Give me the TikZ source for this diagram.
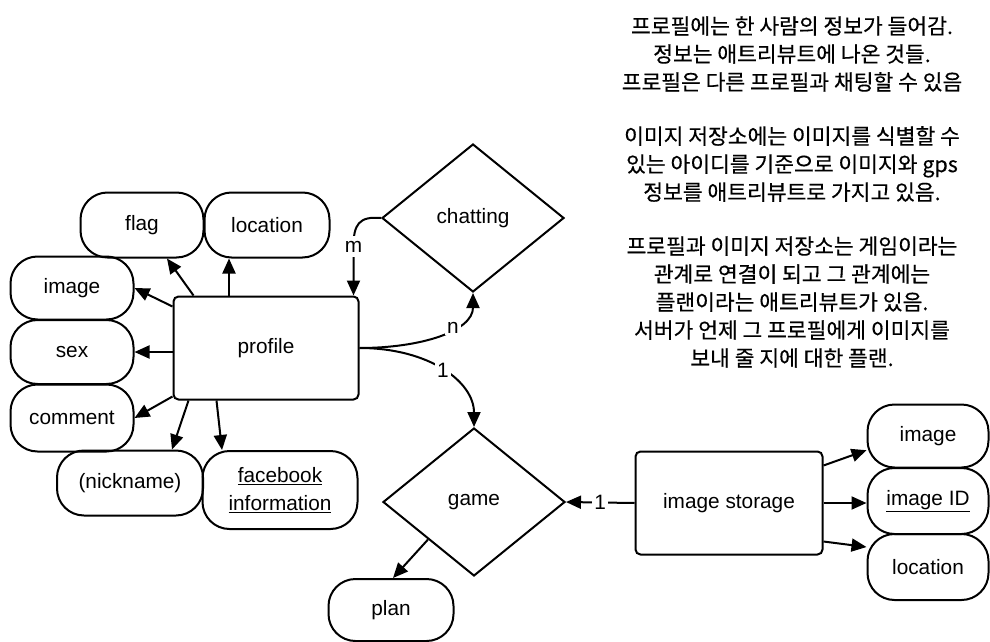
\documentclass[tikz,border=0pt]{standalone}
\usepackage{fontspec}
\setmainfont{Liberation Sans}
\newfontfamily\kofont[FakeBold=0.4]{Noto Sans CJK KR}
\usetikzlibrary{shapes.geometric,arrows.meta,calc}
\begin{document}
\begin{tikzpicture}[x=1pt,y=-1pt,line width=2pt,
  lbl/.style={font=\fontsize{20.8}{28}\selectfont},
  attr/.style={draw,lbl,rounded corners=27pt,minimum width=123pt,minimum height=65pt,inner sep=0pt,align=center},
  ent/.style={draw,lbl,rounded corners=5pt,minimum width=185pt,minimum height=103pt,inner sep=0pt},
  rel/.style={draw,lbl,diamond,minimum width=182pt,minimum height=148pt,inner sep=0pt},
  arr/.style={-{Triangle[length=15pt,width=13pt]}},
  card/.style={lbl,fill=white,inner sep=2pt},
  ko/.style={font=\kofont\fontsize{21.5}{28}\selectfont,align=center}]
\useasboundingbox (0,0) rectangle (990,642);
\fill[white] (0,0) rectangle (990,642);

% entities
\node[ent] (profile) at (266,348) {profile};
\node[ent,minimum width=187pt] (store) at (729,503) {image storage};

% relationships
\node[rel] (chat) at (473,218) {chatting};
\node[rel] (game) at (474,502) {game};

% profile attributes
\node[attr] (flag) at (142,225) {flag};
\node[attr,minimum width=125pt] (loc1) at (267,225) {location};
\node[attr,minimum height=63pt] (img1) at (72,288) {image};
\node[attr,minimum height=64pt] (sex) at (72,352) {sex};
\node[attr,minimum height=67pt] (comment) at (72,418) {comment};
\node[attr,minimum width=146pt] (nick) at (130,483) {(nickname)};
\node[attr,minimum width=155pt,minimum height=78pt] (fb) at (280,490) {\underline{facebook}\\\underline{information}};

% game attribute
\node[attr,minimum width=125pt,minimum height=62pt] (plan) at (391,610) {plan};

% image storage attributes
\node[attr,minimum width=121pt,minimum height=63pt] (img2) at (928,436) {image};
\node[attr,minimum width=121pt,minimum height=66pt] (imgid) at (928,501) {\underline{image ID}};
\node[attr,minimum width=121pt,minimum height=66pt] (loc2) at (928,567) {location};

% profile -> attributes
\draw[arr] ([xshift=21]profile.north west) -- ([xshift=25]flag.south);
\draw[arr] ([xshift=-38]loc1.south |- profile.north) -- ([xshift=-38]loc1.south);
\draw[arr] ([yshift=-11]profile.north west) -- (img1.east);
\draw[arr] (sex.east -| profile.west) -- (sex.east);
\draw[arr] ([yshift=4]profile.south west) -- (comment.east);
\draw[arr] ([xshift=16]profile.south west) -- ([xshift=42]nick.north);
\draw[arr] ([xshift=44]profile.south west) -- ([xshift=-58]fb.north);

% chatting relationship
\draw[arr] (chat.west) .. controls +(-22,-2) and +(0,-22) .. ([xshift=-6,yshift=49]profile.north east)
   node[card,inner sep=5pt] {m} -- ([xshift=-6]profile.north east);
\draw[arr] (profile.east) .. controls +(62,0) and +(0,38) .. (chat.south) node[card,pos=0.62] {n};

% game relationship
\draw[arr] (profile.east) .. controls +(70,0) and +(0,-45) .. (game.north) node[card,pos=0.5] {1};
\draw[arr] (store.west) -- (game.east) node[card,midway] {1};
\draw[arr] ($(game.west)!0.5!(game.south)$) -- ([xshift=2]plan.north);

% image storage -> attributes
\draw[arr] ([yshift=-15]store.north east) -- (img2.193);
\draw[arr] (store.east) -- (store.east -| imgid.west);
\draw[arr] ([yshift=14]store.south east) -- (loc2.162);

% notes
\node[ko] (t1) at (792,54) {프로필에는 한 사람의 정보가 들어감.\\정보는 애트리뷰트에 나온 것들.\\프로필은 다른 프로필과 채팅할 수 있음};
\node[ko] (t2) at (792,164) {이미지 저장소에는 이미지를 식별할 수\\있는 아이디를 기준으로 이미지와 gps\\정보를 애트리뷰트로 가지고 있음.};
\node[ko] (t3) at (792,302) {프로필과 이미지 저장소는 게임이라는\\관계로 연결이 되고 그 관계에는\\플랜이라는 애트리뷰트가 있음.\\서버가 언제 그 프로필에게 이미지를\\보내 줄 지에 대한 플랜.};
\end{tikzpicture}
\end{document}
